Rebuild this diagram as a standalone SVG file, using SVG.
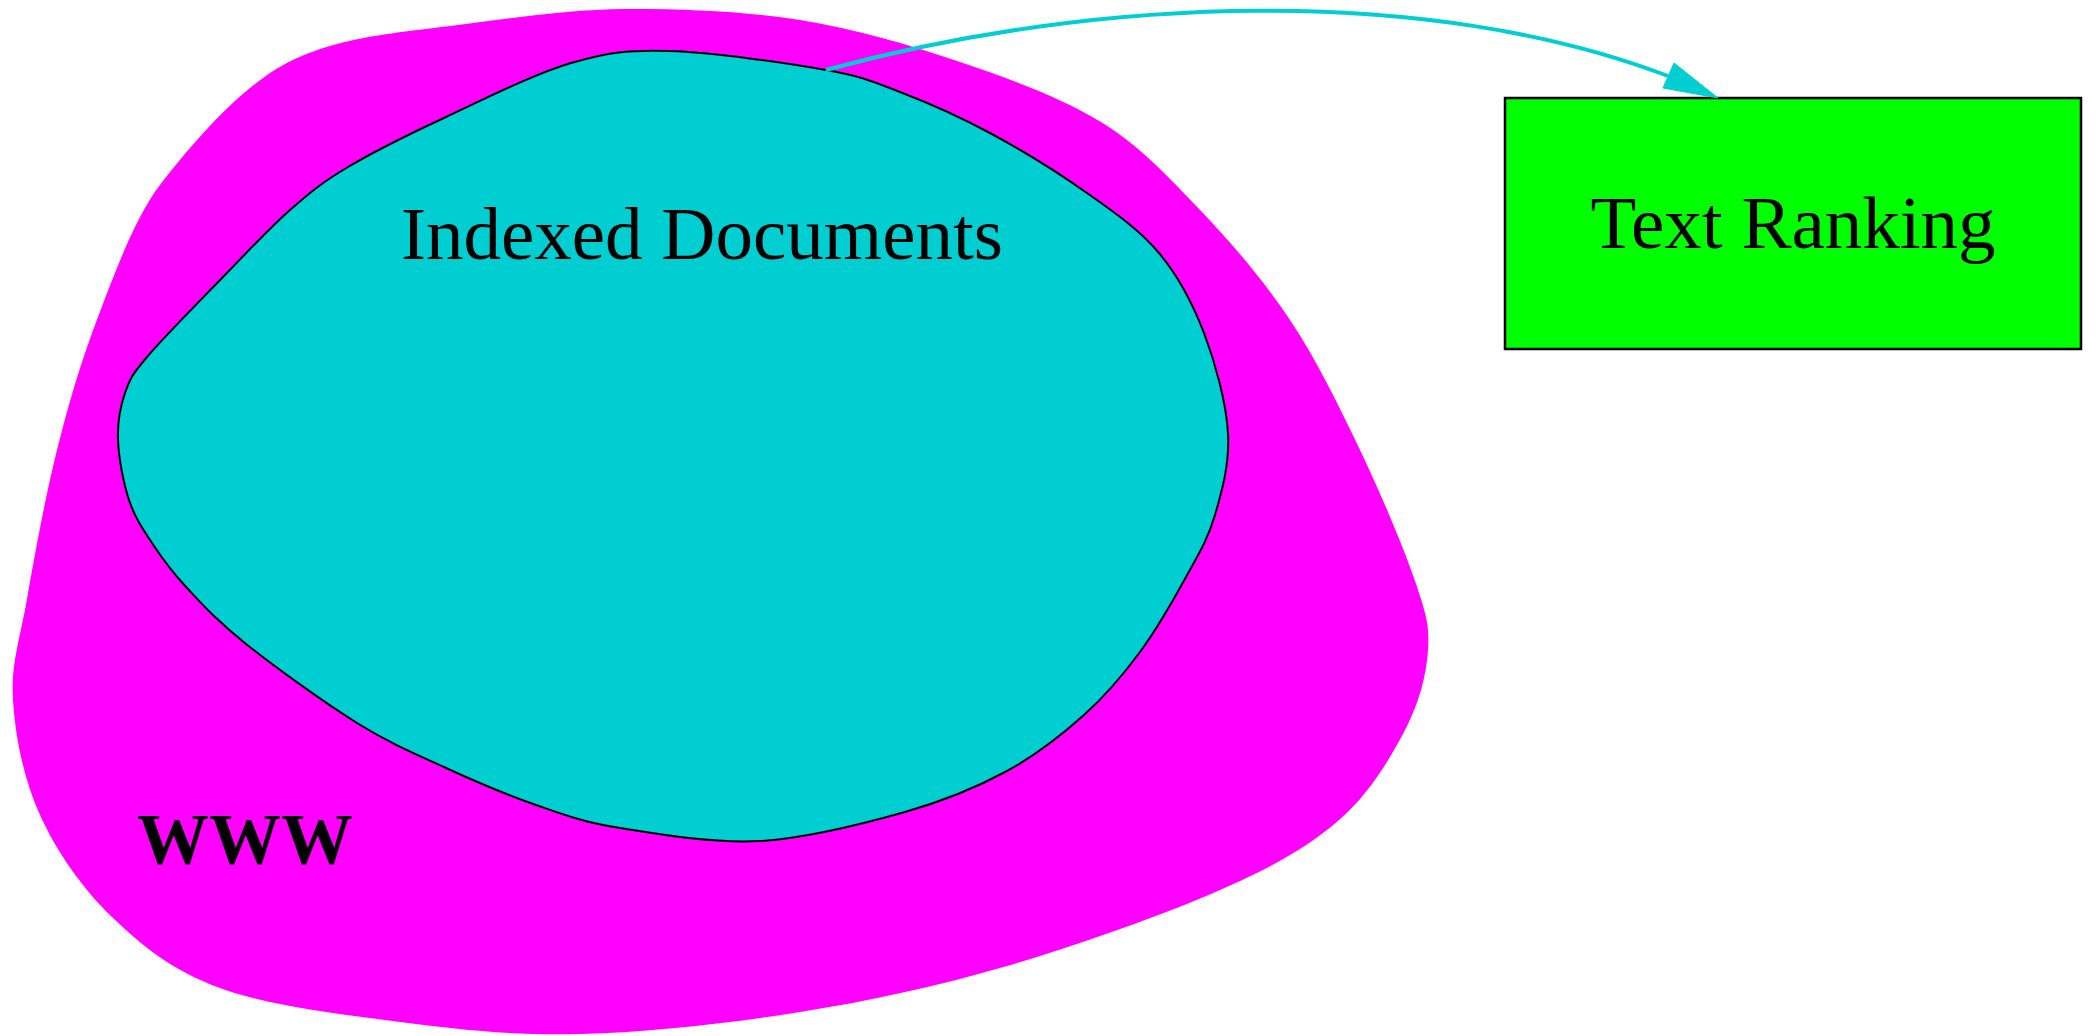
<svg xmlns="http://www.w3.org/2000/svg" width="2096" height="1036" viewBox="0 0 2096 1036">
<defs>
<style>
.lbl{font-family:"Liberation Serif","Times New Roman",serif;font-size:75px;fill:#000}
.bold{font-weight:bold;font-size:72px}
</style>
</defs>
<rect width="2096" height="1036" fill="#fff"/>
<g id="www">
<path fill="#ff00ff" d="M625,9 C683.3,8.7 744.2,11.2 800,20 C855.8,28.8 909.8,45 960,62 C1010.2,79 1061,97.3 1101,122 C1141,146.7 1168.5,177 1200,210 C1231.5,243 1263.3,280 1290,320 C1316.7,360 1339.2,406.5 1360,450 C1380.8,493.5 1403.7,547.7 1415,581 C1426.3,614.3 1429.7,625.2 1428,650 C1426.3,674.8 1419.8,701.7 1405,730 C1390.2,758.3 1369.8,793.3 1339,820 C1308.2,846.7 1275.3,865.7 1220,890 C1164.7,914.3 1077,945.7 1007,966 C937,986.3 871.2,1000.7 800,1012 C728.8,1023.3 646.7,1032.3 580,1034 C513.3,1035.7 460,1029.7 400,1022 C340,1014.3 268,1005.5 220,988 C172,970.5 142,945.8 112,917 C82,888.2 56.5,851.2 40,815 C23.5,778.8 15.2,736 13,700 C10.8,664 19.7,640.7 27,599 C34.3,557.3 45.2,497 57,450 C68.8,403 80.8,362 98,317 C115.2,272 134.7,218.2 160,185 C185.3,151.8 221.7,110.5 250,88 C278.3,65.5 296.7,56 330,46 C363.3,36 400.8,32 450,26 C499.2,20 566.7,9.3 625,9 Z"/>
<text class="lbl bold" x="137" y="863">WWW</text>
</g>
<g id="indexed">
<path fill="#00ced1" stroke="#000" stroke-width="2" d="M670,51 C712.5,52.2 787.7,63.2 826,70 C864.3,76.8 872.7,81.5 900,92 C927.3,102.5 958.8,116.2 990,133 C1021.2,149.8 1058.8,173 1087,193 C1115.2,213 1139.5,229.7 1159,253 C1178.5,276.3 1192.5,303 1204,333 C1215.5,363 1226.2,402.7 1228,433 C1229.8,463.3 1222,491 1215,515 C1208,539 1198.5,554.2 1186,577 C1173.5,599.8 1157,629 1140,652 C1123,675 1106.2,695.2 1084,715 C1061.8,734.8 1036.8,754.8 1007,771 C977.2,787.2 946.2,800.3 905,812 C863.8,823.7 807.5,838.3 760,841 C712.5,843.7 657.3,834 620,828 C582.7,822 565,815 536,805 C507,795 475.8,781.7 446,768 C416.2,754.3 390.3,743.7 357,723 C323.7,702.3 274.3,666.5 246,644 C217.7,621.5 202.7,604.8 187,588 C171.3,571.2 161.7,557.7 152,543 C142.3,528.3 134.7,517.2 129,500 C123.3,482.8 118.7,457.8 118,440 C117.3,422.2 120.2,406.8 125,393 C129.8,379.2 130.7,376.3 147,357 C163.3,337.7 199.2,301.5 223,277 C246.8,252.5 269.2,228.3 290,210 C310.8,191.7 322,182.5 348,167 C374,151.5 408.8,134.3 446,117 C483.2,99.7 533.7,74 571,63 C608.3,52 627.5,49.8 670,51 Z"/>
<text class="lbl" x="702" y="259" text-anchor="middle">Indexed Documents</text>
</g>
<g id="ranking">
<rect x="1505" y="98" width="576" height="251" fill="#00ff00" stroke="#000" stroke-width="2.5"/>
<text class="lbl" x="1793" y="248" text-anchor="middle">Text Ranking</text>
</g>
<g id="connectors">
<path d="M826,70 C1100,-5 1430,-15 1668,76" fill="none" stroke="#00ced1" stroke-width="4"/>
<polygon points="1718,98 1674,63 1663,88" fill="#00ced1" stroke="#00ced1" stroke-width="1"/>
</g>
</svg>
